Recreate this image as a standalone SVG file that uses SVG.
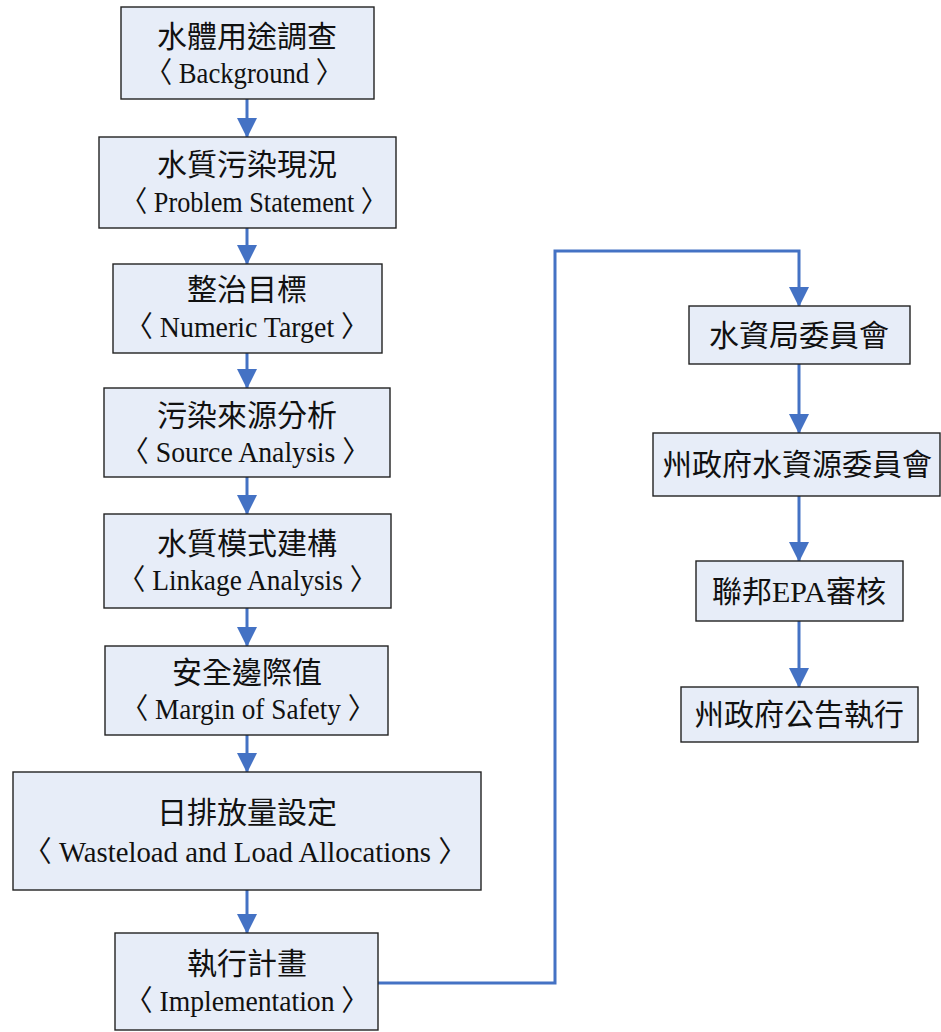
<svg xmlns="http://www.w3.org/2000/svg" width="941" height="1032" viewBox="0 0 941 1032">
<style>
.box{fill:#E7EDF8;stroke:#222;stroke-width:1.4}
.c{font-family:"Liberation Serif","Noto Sans CJK TC",serif;font-size:30px;fill:#111;text-anchor:middle}
.l{font-family:"Liberation Serif","Noto Sans CJK TC",serif;font-size:29px;fill:#111;text-anchor:middle}
.conn{fill:none;stroke:#4472C4;stroke-width:3;marker-end:url(#ah)}
</style>
<defs>
<marker id="ah" viewBox="0 0 20 20" markerWidth="20" markerHeight="20" refX="19" refY="10" orient="auto" markerUnits="userSpaceOnUse">
<path d="M0,0 L20,10 L0,20 z" fill="#4472C4"/>
</marker>
</defs>
<g id="connectors">
<path class="conn" d="M247,99 V137"/>
<path class="conn" d="M247,228 V264"/>
<path class="conn" d="M247,353 V388"/>
<path class="conn" d="M247,477 V514"/>
<path class="conn" d="M247,608 V646"/>
<path class="conn" d="M247,735 V772"/>
<path class="conn" d="M247,890 V933"/>
<path class="conn" d="M378,983 H555 V251 H799 V306"/>
<path class="conn" d="M799,364 V433"/>
<path class="conn" d="M799,496 V561"/>
<path class="conn" d="M799,621 V687"/>
</g>
<g id="n1"><rect class="box" x="121" y="7" width="253" height="92"/><text class="c" x="247" y="47">水體用途調查</text><text class="l" x="244" y="83" textLength="197" lengthAdjust="spacingAndGlyphs">〈 Background 〉</text></g>
<g id="n2"><rect class="box" x="99" y="137" width="297" height="91"/><text class="c" x="247" y="175">水質污染現況</text><text class="l" x="254" y="212" textLength="266" lengthAdjust="spacingAndGlyphs">〈 Problem Statement 〉</text></g>
<g id="n3"><rect class="box" x="113" y="264" width="269" height="89"/><text class="c" x="247" y="300">整治目標</text><text class="l" x="247" y="337" textLength="244" lengthAdjust="spacingAndGlyphs">〈 Numeric Target 〉</text></g>
<g id="n4"><rect class="box" x="104" y="388" width="286" height="89"/><text class="c" x="247" y="426">污染來源分析</text><text class="l" x="245.5" y="462" textLength="249" lengthAdjust="spacingAndGlyphs">〈 Source Analysis 〉</text></g>
<g id="n5"><rect class="box" x="104" y="514" width="287" height="94"/><text class="c" x="247" y="554">水質模式建構</text><text class="l" x="247.5" y="590" textLength="259" lengthAdjust="spacingAndGlyphs">〈 Linkage Analysis 〉</text></g>
<g id="n6"><rect class="box" x="105" y="646" width="283" height="89"/><text class="c" x="247" y="683">安全邊際值</text><text class="l" x="248" y="719" textLength="254" lengthAdjust="spacingAndGlyphs">〈 Margin of Safety 〉</text></g>
<g id="n7"><rect class="box" x="13" y="772" width="468" height="118"/><text class="c" x="247" y="823">日排放量設定</text><text class="l" x="245" y="862" textLength="444" lengthAdjust="spacingAndGlyphs">〈 Wasteload and Load Allocations 〉</text></g>
<g id="n8"><rect class="box" x="115" y="933" width="263" height="97"/><text class="c" x="247" y="974">執行計畫</text><text class="l" x="247" y="1011" textLength="244" lengthAdjust="spacingAndGlyphs">〈 Implementation 〉</text></g>
<g id="nA"><rect class="box" x="689" y="306" width="221" height="58"/><text class="c" x="799" y="346">水資局委員會</text></g>
<g id="nB"><rect class="box" x="653" y="433" width="287" height="63"/><text class="c" x="797" y="475">州政府水資源委員會</text></g>
<g id="nC"><rect class="box" x="696" y="561" width="207" height="60"/><text class="c" x="799" y="602">聯邦EPA審核</text></g>
<g id="nD"><rect class="box" x="681" y="687" width="237" height="55"/><text class="c" x="799" y="725">州政府公告執行</text></g>
</svg>
